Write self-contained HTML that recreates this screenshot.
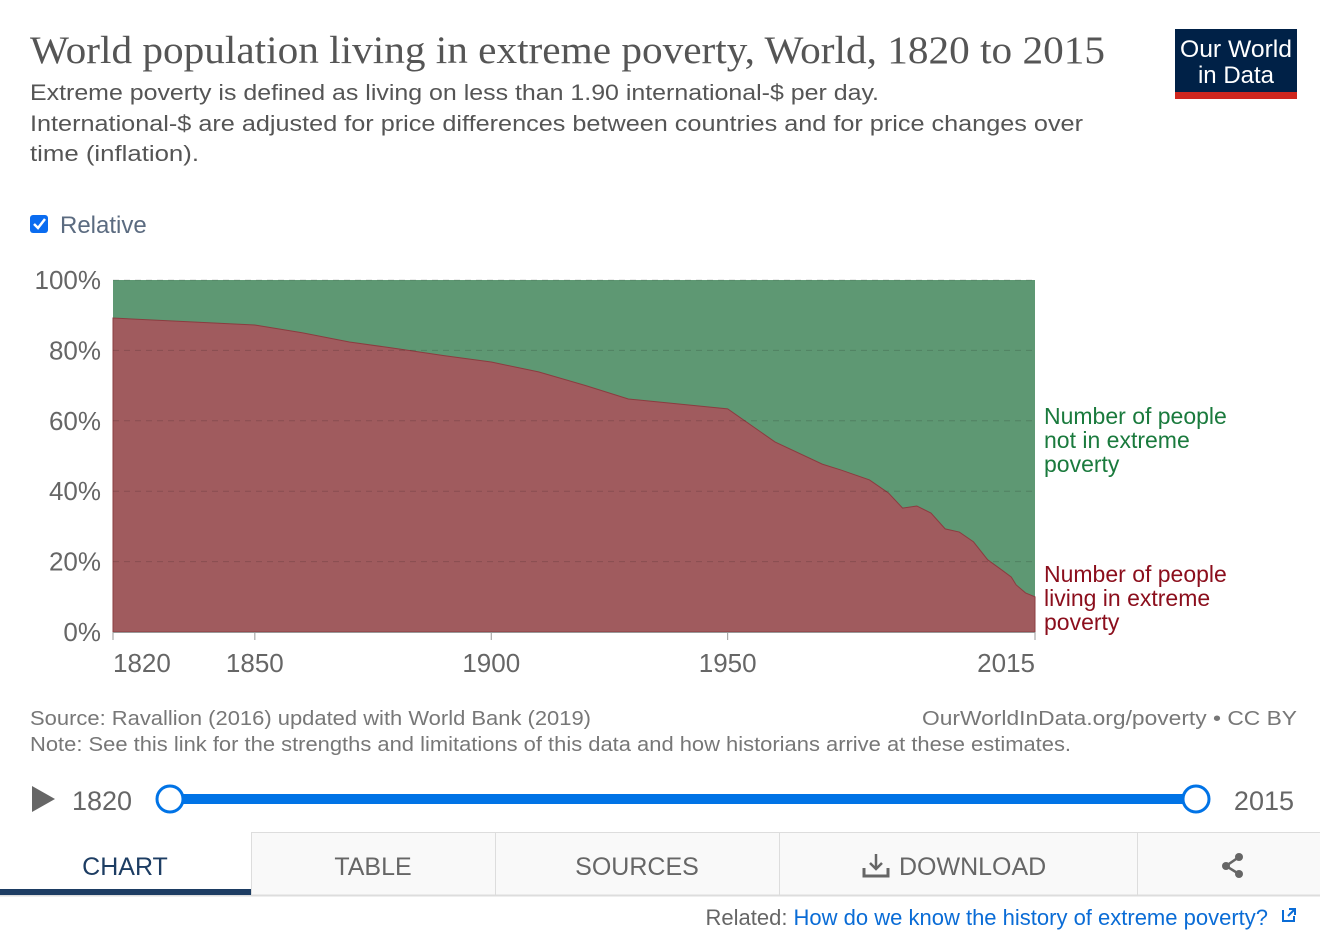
<!DOCTYPE html>
<html><head><meta charset="utf-8"><style>
html,body{margin:0;padding:0;background:#fff;}
svg{display:block;font-family:"Liberation Sans",sans-serif;}
</style></head><body>
<svg id="root" width="1320" height="932" viewBox="0 0 1320 932">
<text x="30" y="63" font-family="Liberation Serif,serif" font-size="39" fill="#555" textLength="1075" lengthAdjust="spacingAndGlyphs">World population living in extreme poverty, World, 1820 to 2015</text>
<text x="30" y="100" font-size="22" fill="#555" textLength="849" lengthAdjust="spacingAndGlyphs">Extreme poverty is defined as living on less than 1.90 international-$ per day.</text>
<text x="30" y="131" font-size="22" fill="#555" textLength="1053" lengthAdjust="spacingAndGlyphs">International-$ are adjusted for price differences between countries and for price changes over</text>
<text x="30" y="161" font-size="22" fill="#555" textLength="169" lengthAdjust="spacingAndGlyphs">time (inflation).</text>
<g>
<rect x="1175" y="29" width="122" height="63" fill="#002147"/>
<rect x="1175" y="92" width="122" height="7" fill="#ce261e"/>
<text x="1236" y="57" font-size="24" fill="#fff" text-anchor="middle" textLength="112" lengthAdjust="spacingAndGlyphs">Our World</text>
<text x="1236" y="83" font-size="24" fill="#fff" text-anchor="middle">in Data</text>
</g>
<g>
<rect x="30" y="215" width="18" height="18" rx="3" fill="#0a6cf0"/>
<path d="M34 224 l4 4 l7 -9" stroke="#fff" stroke-width="2.5" fill="none"/>
<text x="60" y="233" font-size="24" fill="#5b6b80">Relative</text>
</g>
<g id="chart"></g>
<g>
<text font-size="23" fill="#1a7a3d"><tspan x="1044" y="424">Number of people</tspan><tspan x="1044" y="448">not in extreme</tspan><tspan x="1044" y="472">poverty</tspan></text>
<text font-size="23" fill="#8b0e1c"><tspan x="1044" y="582">Number of people</tspan><tspan x="1044" y="606">living in extreme</tspan><tspan x="1044" y="630">poverty</tspan></text>
</g>
<text x="30" y="725" font-size="20" fill="#777" textLength="561" lengthAdjust="spacingAndGlyphs">Source: Ravallion (2016) updated with World Bank (2019)</text>
<text x="1297" y="725" font-size="20" fill="#777" text-anchor="end" textLength="375" lengthAdjust="spacingAndGlyphs">OurWorldInData.org/poverty • CC BY</text>
<text x="30" y="751" font-size="20" fill="#777" textLength="1041" lengthAdjust="spacingAndGlyphs">Note: See this link for the strengths and limitations of this data and how historians arrive at these estimates.</text>
<path d="M32 786 L55 799 L32 812 Z" fill="#666"/>
<text x="72" y="810" font-size="27" fill="#666">1820</text>
<rect x="170" y="794" width="1026" height="10" fill="#0073e6"/>
<circle cx="170" cy="799" r="13" fill="#fff" stroke="#0073e6" stroke-width="3"/>
<circle cx="1196" cy="799" r="13" fill="#fff" stroke="#0073e6" stroke-width="3"/>
<text x="1294" y="810" font-size="27" fill="#666" text-anchor="end">2015</text>
<g>
<rect x="251" y="832" width="1069" height="63" fill="#f9f9f9"/>
<line x1="0" y1="895.5" x2="1320" y2="895.5" stroke="#ddd" stroke-width="2"/>
<line x1="251.5" y1="832" x2="251.5" y2="895" stroke="#ddd"/>
<line x1="251" y1="832.5" x2="1320" y2="832.5" stroke="#ddd"/>
<line x1="495.5" y1="832" x2="495.5" y2="895" stroke="#ddd"/>
<line x1="779.5" y1="832" x2="779.5" y2="895" stroke="#ddd"/>
<line x1="1137.5" y1="832" x2="1137.5" y2="895" stroke="#ddd"/>
<rect x="0" y="889" width="251" height="6" fill="#1d3d63"/>
<text x="125" y="875" font-size="25" fill="#1d3d63" text-anchor="middle">CHART</text>
<text x="373" y="875" font-size="25" fill="#666" text-anchor="middle">TABLE</text>
<text x="637" y="875" font-size="25" fill="#666" text-anchor="middle">SOURCES</text>
<g>
<path d="M876 854 v15 M870 863 l6 6 l6 -6" stroke="#666" stroke-width="2.5" fill="none"/>
<path d="M864 868 v8 h24 v-8" stroke="#666" stroke-width="3" fill="none"/>
<text x="899" y="875" font-size="25" fill="#666">DOWNLOAD</text>
</g>
<g fill="#666">
<circle cx="1239" cy="857" r="4"/><circle cx="1226" cy="866" r="4"/><circle cx="1239" cy="874" r="4"/>
<path d="M1239 857 L1226 866 L1239 874" stroke="#666" stroke-width="2.5" fill="none"/>
</g>
</g>
<text x="1268" y="925" font-size="22" text-anchor="end"><tspan fill="#666">Related: </tspan><tspan fill="#0a6cd6">How do we know the history of extreme poverty?</tspan></text>
<path d="M1283 910 v11 h11 v-5 M1289 909 h6 v6 M1295 909 l-7 7" stroke="#0a6cd6" stroke-width="2" fill="none"/>
</svg>
<script>
const years = [1820,1850,1860,1870,1880,1890,1900,1910,1920,1929,1950,1960,1970,1974,1980,1984,1987,1990,1993,1996,1999,2002,2005,2008,2010,2011,2013,2015];
const povertyShare = [89.2,87.2,85.0,82.4,80.5,78.5,76.7,73.9,70.0,66.2,63.4,54.0,47.7,46.0,43.2,39.5,35.2,35.8,33.8,29.3,28.4,25.6,20.5,17.6,15.6,13.4,11.1,10.0];
const yTicks = [0,20,40,60,80,100];
const xTicks = [1820,1850,1900,1950,2015];
const NS='http://www.w3.org/2000/svg';
const X0=113,X1=1035,Y0=632,Y1=280;
const xs=y=>X0+(y-1820)/(2015-1820)*(X1-X0);
const ys=v=>Y0-v/100*(Y0-Y1);
const g=document.getElementById('chart');
function mk(t,a){const e=document.createElementNS(NS,t);for(const k in a)e.setAttribute(k,a[k]);g.appendChild(e);return e;}
let topPath='M'+xs(years[0])+' '+ys(100)+' L'+xs(years[years.length-1])+' '+ys(100);
let bound='';for(let i=years.length-1;i>=0;i--)bound+=' L'+xs(years[i])+' '+ys(povertyShare[i]);
const green=mk('path',{d:topPath+bound+' Z',fill:'#5e9873'});


let rp='M'+xs(years[0])+' '+ys(0);for(let i=0;i<years.length;i++)rp+=' L'+xs(years[i])+' '+ys(povertyShare[i]);rp+=' L'+xs(years[years.length-1])+' '+ys(0)+' Z';
const red=mk('path',{d:rp,fill:'#a05b5e',stroke:'#8b3c40','stroke-width':1});


yTicks.forEach(v=>{
  if(v>0){const l=mk('line',{x1:X0,x2:X1,y1:ys(v),y2:ys(v),stroke:'rgba(0,0,0,0.15)','stroke-dasharray':'6,5'});
  
  }
  const t=mk('text',{x:101,y:ys(v)+9,'font-size':26,fill:'#666','text-anchor':'end'});t.textContent=v+'%';
  
  
});
const ax=mk('line',{x1:X0,x2:X1,y1:Y0+0.5,y2:Y0+0.5,stroke:'#999'});


xTicks.forEach((yr,i)=>{
  const tk=mk('line',{x1:xs(yr),x2:xs(yr),y1:Y0,y2:Y0+8,stroke:'#999'});
  
  
  const anchor=i==0?'start':(i==xTicks.length-1?'end':'middle');
  const t=mk('text',{x:xs(yr),y:672,'font-size':26,fill:'#666','text-anchor':anchor});t.textContent=yr;
  
  
});
</script>
</body></html>
